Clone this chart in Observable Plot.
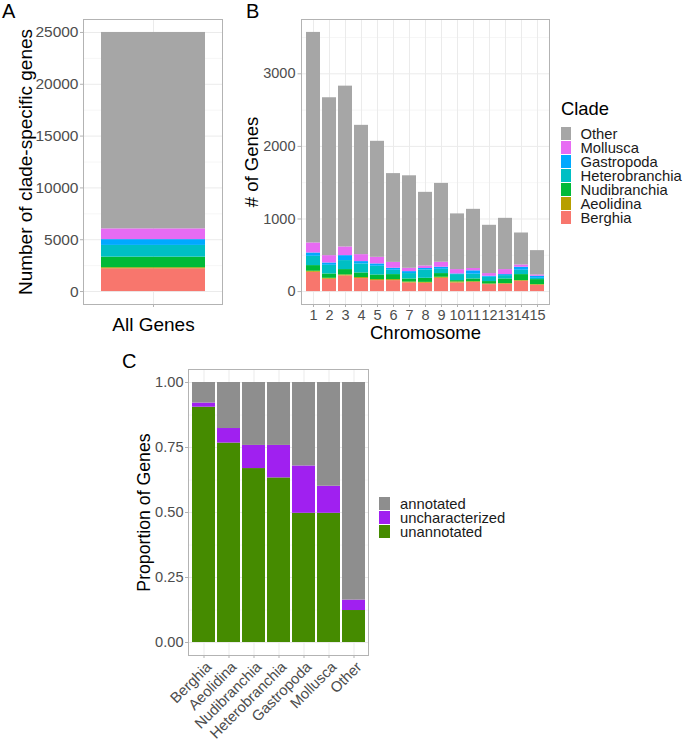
<!DOCTYPE html>
<html>
<head>
<meta charset="utf-8">
<script src="https://cdn.jsdelivr.net/npm/d3@7"></script>
<script src="https://cdn.jsdelivr.net/npm/@observablehq/plot@0.6"></script>
<style>
  body { margin: 0; background: #fff; }
  #root { position: relative; width: 685px; height: 741px; overflow: hidden; background: #fff;
          font-family: "Liberation Sans", Arial, sans-serif; }
  #root svg { position: absolute; overflow: visible; }
  .plabel { position: absolute; font-size: 20px; line-height: 20px; color: #000; }
  .legtitle { position: absolute; font-size: 18.4px; line-height: 18px; color: #000; }
  .key { position: absolute; }
  .keytext { position: absolute; font-size: 14.8px; line-height: 14px; color: #1a1a1a; white-space: nowrap; }
</style>
</head>
<body>
<div id="root"></div>
<script>
// ---------- DATA ----------
const clades = ["Berghia", "Aeolidina", "Nudibranchia", "Heterobranchia", "Gastropoda", "Mollusca", "Other"];
const cladeColors = ["#F8766D", "#B79F00", "#00BA38", "#00BFC4", "#00A9FF", "#E76BF3", "#A6A6A6"];
const legendOrderB = ["Other", "Mollusca", "Gastropoda", "Heterobranchia", "Nudibranchia", "Aeolidina", "Berghia"];

// Panel A: all genes, per clade
const allGenesLabel = "All Genes";
const allGenesCounts = [2200, 100, 1020, 1130, 560, 1040, 18950];

// Panel B: genes per chromosome, per clade
const chromosomes = ["1","2","3","4","5","6","7","8","9","10","11","12","13","14","15"];
const berghiaB        = [266, 170, 216, 179, 151, 151, 119, 115, 183, 119, 126,  96, 101, 142,  87];
const aeolidinaB      = [ 14,  13,  13,  14,  14,  14,  12,  12,  14,  14,  10,   9,   9,   9,   9];
const nudibranchiaB   = [ 78,  60,  74,  64,  64,  69,  43,  56,  51,  18,  38,  33,  64,  83,  69];
const heterobranchiaB = [128, 119, 124, 124, 120,  60,  74, 115,  59,  83,  65,  59,  46,  60,  18];
const gastropodaB     = [ 46,  32,  68,  32,  32,  27,  27,  20,  28,   9,  47,  14,  14,  41,  28];
const molluscaB       = [138, 101, 120,  96,  91,  81,  46,  35,  69,  60,  32,  37,  69,  32,  18];
const otherB          = [2900,2175,2215,1781,1598,1223,1274,1014,1086, 767, 815, 665, 706, 440, 335];

// Panel C: annotation status proportions per clade
const cladesC = ["Berghia", "Aeolidina", "Nudibranchia", "Heterobranchia", "Gastropoda", "Mollusca", "Other"];
const annotClasses = ["unannotated", "uncharacterized", "annotated"];
const annotColors = ["#458B00", "#A020F0", "#8E8E8E"];
const legendOrderC = ["annotated", "uncharacterized", "unannotated"];
const propUnannotated     = [0.905, 0.767, 0.669, 0.633, 0.497, 0.497, 0.123];
const propUncharacterized = [0.016, 0.056, 0.089, 0.125, 0.182, 0.104, 0.040];
const propAnnotated       = [0.079, 0.177, 0.242, 0.242, 0.321, 0.399, 0.837];

// Axis ticks / titles
const ticksA = [0, 5000, 10000, 15000, 20000, 25000];
const minorA = [2500, 7500, 12500, 17500, 22500];
const ticksB = [0, 1000, 2000, 3000];
const minorB = [500, 1500, 2500, 3500];
const ticksC = [0, 0.25, 0.5, 0.75, 1];
const minorC = [0.125, 0.375, 0.625, 0.875];
const titleA = "Number of clade-specific genes";
const titleBy = "# of Genes";
const titleBx = "Chromosome";
const titleCy = "Proportion of Genes";
const legendTitleB = "Clade";

// ---------- STYLE ----------
const FONT = "'Liberation Sans', Arial, sans-serif";
const GRID_MAJOR = "#EBEBEB";
const GRID_MINOR = "#F4F4F4";
const BORDER = "#B3B3B3";
const TICKTEXT = "#4D4D4D";
const intFmt = d3.format("d");

const root = document.getElementById("root");
function place(el, left, top) { el.style.left = left + "px"; el.style.top = top + "px"; root.appendChild(el); }

// ---------- PANEL A ----------
const dataA = clades.map((c, i) => ({x: allGenesLabel, clade: c, n: allGenesCounts[i]}));
const plotA = Plot.plot({
  width: 230, height: 345,
  marginLeft: 83, marginRight: 8, marginTop: 19, marginBottom: 41,
  style: {fontFamily: FONT, background: "transparent", overflow: "visible"},
  x: {type: "band", domain: [allGenesLabel], paddingInner: 0.1, paddingOuter: 0.15, axis: null},
  y: {domain: [-1250, 26250], axis: null},
  color: {domain: clades, range: cladeColors},
  marks: [
    Plot.gridY(minorA, {stroke: GRID_MINOR, strokeOpacity: 1, strokeWidth: 0.8}),
    Plot.gridY(ticksA, {stroke: GRID_MAJOR, strokeOpacity: 1, strokeWidth: 1}),
    Plot.gridX([allGenesLabel], {stroke: GRID_MAJOR, strokeOpacity: 1, strokeWidth: 1}),
    Plot.barY(dataA, Plot.stackY({order: clades}, {x: "x", y: "n", z: "clade", fill: "clade"})),
    Plot.frame({stroke: BORDER, strokeWidth: 1}),
    Plot.axisY(ticksA, {tickSize: 3, tickPadding: 2, fontSize: 15.5, fill: TICKTEXT, stroke: BORDER, label: null, tickFormat: intFmt}),
    Plot.axisX({tickSize: 3, tickPadding: 10, fontSize: 19, fill: "#000", stroke: BORDER, label: null}),
    Plot.text([titleA], {text: d => d, frameAnchor: "left", textAnchor: "middle", dx: -58, rotate: -90, fontSize: 19, fill: "#000"})
  ]
});
place(plotA, 0, 0);

// ---------- PANEL B ----------
const seriesB = [berghiaB, aeolidinaB, nudibranchiaB, heterobranchiaB, gastropodaB, molluscaB, otherB];
const dataB = [];
chromosomes.forEach((ch, i) => clades.forEach((c, j) => dataB.push({chr: ch, clade: c, n: seriesB[j][i]})));
const plotB = Plot.plot({
  width: 330, height: 345,
  marginLeft: 71, marginRight: 11, marginTop: 19, marginBottom: 41,
  style: {fontFamily: FONT, background: "transparent", overflow: "visible"},
  x: {type: "band", domain: chromosomes, paddingInner: 0.1, paddingOuter: 0.15, axis: null},
  y: {domain: [-178, 3748], axis: null},
  color: {domain: clades, range: cladeColors},
  marks: [
    Plot.gridY(minorB, {stroke: GRID_MINOR, strokeOpacity: 1, strokeWidth: 0.8}),
    Plot.gridY(ticksB, {stroke: GRID_MAJOR, strokeOpacity: 1, strokeWidth: 1}),
    Plot.gridX(chromosomes, {stroke: GRID_MAJOR, strokeOpacity: 1, strokeWidth: 1}),
    Plot.barY(dataB, Plot.stackY({order: clades}, {x: "chr", y: "n", z: "clade", fill: "clade"})),
    Plot.frame({stroke: BORDER, strokeWidth: 1}),
    Plot.axisY(ticksB, {tickSize: 3.5, tickPadding: 2.5, fontSize: 14.5, fill: TICKTEXT, stroke: BORDER, label: null, tickFormat: intFmt}),
    Plot.axisX({tickSize: 3, tickPadding: 2, fontSize: 14.5, fill: TICKTEXT, stroke: BORDER, label: null}),
    Plot.text([titleBy], {text: d => d, frameAnchor: "left", textAnchor: "middle", dx: -49, rotate: -90, fontSize: 18.5, fill: "#000"}),
    Plot.text([titleBx], {text: d => d, frameAnchor: "bottom", textAnchor: "middle", lineAnchor: "bottom", dy: 34, fontSize: 18.5, fill: "#000"})
  ]
});
place(plotB, 230, 0);

// ---------- PANEL C ----------
const seriesC = [propUnannotated, propUncharacterized, propAnnotated];
const dataC = [];
cladesC.forEach((c, i) => annotClasses.forEach((a, j) => dataC.push({clade: c, status: a, p: seriesC[j][i]})));
const plotC = Plot.plot({
  width: 275, height: 396,
  marginLeft: 88, marginRight: 7, marginTop: 24, marginBottom: 86,
  style: {fontFamily: FONT, background: "transparent", overflow: "visible"},
  x: {type: "band", domain: cladesC, paddingInner: 0.1, paddingOuter: 0.15, axis: null},
  y: {domain: [-0.05, 1.05], axis: null},
  color: {domain: annotClasses, range: annotColors},
  marks: [
    Plot.gridY(minorC, {stroke: GRID_MINOR, strokeOpacity: 1, strokeWidth: 0.8}),
    Plot.gridY(ticksC, {stroke: GRID_MAJOR, strokeOpacity: 1, strokeWidth: 1}),
    Plot.gridX(cladesC, {stroke: GRID_MAJOR, strokeOpacity: 1, strokeWidth: 1}),
    Plot.barY(dataC, Plot.stackY({order: annotClasses}, {x: "clade", y: "p", z: "status", fill: "status"})),
    Plot.frame({stroke: BORDER, strokeWidth: 1}),
    Plot.axisY(ticksC, {tickSize: 3, tickPadding: 2, fontSize: 14.6, fill: TICKTEXT, stroke: BORDER, label: null,
                        tickFormat: d3.format(".2f")}),
    Plot.axisX({tickSize: 3, tickFormat: () => "", stroke: BORDER, label: null}),
    Plot.text(cladesC, {x: d => d, text: d => d, frameAnchor: "bottom", dx: 1, dy: 5, rotate: -45,
                        textAnchor: "end", lineAnchor: "top", fontSize: 14.8, fill: TICKTEXT}),
    Plot.text([titleCy], {text: d => d, frameAnchor: "left", textAnchor: "middle", dx: -44, rotate: -90, fontSize: 17.7, fill: "#000"})
  ]
});
place(plotC, 100, 345);

// ---------- PANEL LETTERS ----------
[["A", 2, 1], ["B", 246, 1], ["C", 122, 351]].forEach(([t, x, y]) => {
  const d = document.createElement("div"); d.className = "plabel"; d.textContent = t; place(d, x, y);
});

// ---------- LEGEND B ----------
{
  const t = document.createElement("div"); t.className = "legtitle"; t.textContent = legendTitleB; place(t, 561, 100);
  legendOrderB.forEach((c, i) => {
    const k = document.createElement("div"); k.className = "key";
    k.style.width = "10px"; k.style.height = "13px";
    k.style.background = cladeColors[clades.indexOf(c)];
    place(k, 561, 127 + i * 14);
    const l = document.createElement("div"); l.className = "keytext"; l.textContent = c;
    place(l, 580.5, 126.5 + i * 14);
  });
}

// ---------- LEGEND C ----------
legendOrderC.forEach((a, i) => {
  const k = document.createElement("div"); k.className = "key";
  k.style.width = "10.5px"; k.style.height = "13px";
  k.style.background = annotColors[annotClasses.indexOf(a)];
  place(k, 379, 497 + i * 14);
  const l = document.createElement("div"); l.className = "keytext"; l.textContent = a;
  place(l, 400, 496.5 + i * 14);
});
</script>
</body>
</html>
